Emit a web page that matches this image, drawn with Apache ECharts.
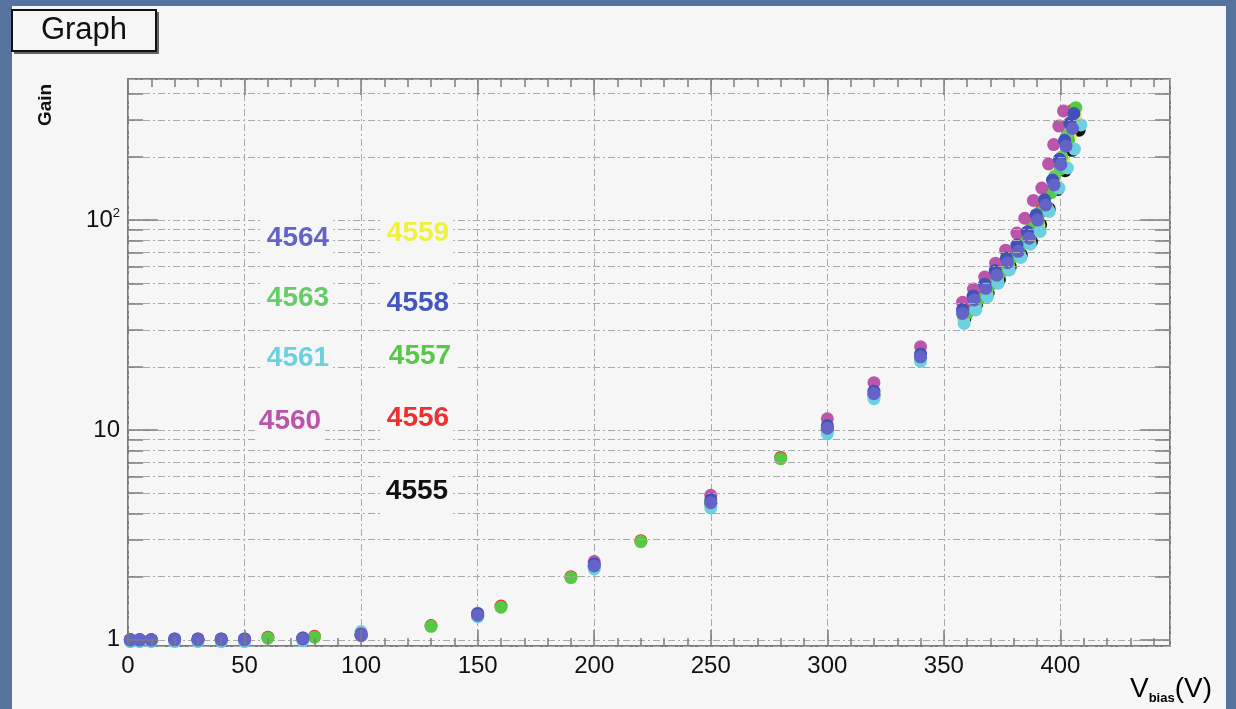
<!DOCTYPE html>
<html><head><meta charset="utf-8">
<script src="https://cdn.jsdelivr.net/npm/echarts@6/dist/echarts.min.js"></script>
<style>html,body{margin:0;padding:0;background:#55739c;}#c{width:1236px;height:709px;}</style>
</head><body><div id="c"></div>
<script>
// ---- data (V_bias in volts, gain) ----
const lowV = [1, 5, 10, 20, 30, 40, 50, 75, 100, 150, 200, 250, 300, 320, 340];

const v4564 = lowV.concat([358, 363, 368, 372.7, 377.3, 381.9, 386.6, 390.2, 393.7, 397.3, 400.2, 402.4, 405.2]);
const g4564 = [1.0, 1.0, 1.0, 1.0, 1.0, 1.0, 1.0, 1.01, 1.05, 1.31, 2.25, 4.5, 10.2, 14.9, 22.3,
               35.9, 41.6, 47.3, 54.6, 62.7, 71, 82, 100, 118, 147, 184, 225, 273];

const v4558 = lowV.concat([358, 362.5, 367.5, 372, 376.8, 381.3, 385.8, 389.6, 393.2, 396.6, 399.6, 401.8, 404, 405.8]);
const g4558 = [1.0, 1.0, 1.0, 1.01, 1.01, 1.01, 1.01, 1.02, 1.06, 1.33, 2.3, 4.65, 10.5, 15.3, 23,
               37.5, 43.5, 49.5, 57.5, 66, 76, 88, 106, 125, 155, 195, 240, 290, 322];

const v4560 = lowV.concat([358, 362.7, 367.5, 372.2, 376.5, 381.3, 384.7, 388.4, 392, 394.9, 397.1, 399.3, 401.3]);
const g4560 = [1.0, 1.0, 1.0, 1.01, 1.01, 1.01, 1.01, 1.02, 1.07, 1.34, 2.36, 4.88, 11.3, 16.8, 24.9,
               40.6, 46.9, 53.5, 62.3, 71.9, 86.7, 102, 124, 142, 185, 229, 281, 331];

const v4561 = lowV.concat([358.7, 363.7, 368.7, 373.3, 378.1, 383, 387, 391.3, 395.2, 399.4, 403, 406, 408.8]);
const g4561 = [0.98, 0.98, 0.98, 0.98, 0.98, 0.98, 0.98, 0.99, 1.095, 1.29, 2.18, 4.25, 9.6, 14.1, 21.2,
               32.2, 37.3, 43.2, 50, 57.9, 66.4, 76.8, 88.3, 110, 142, 177, 218, 284];

const v4559 = lowV.concat([358.5, 363.5, 368.5, 373, 377.8, 382.5, 386.8, 390.8, 394.5, 398, 401.5, 404.2, 406.5]);
const g4559 = [1.0, 1.0, 1.0, 1.0, 1.0, 1.0, 1.0, 1.01, 1.05, 1.3, 2.22, 4.4, 9.9, 14.5, 21.8,
               34, 39.5, 45, 52, 60, 68.5, 79, 94, 113, 150, 190, 250, 310];

const v4563 = lowV.concat([358.3, 363.3, 368.3, 373, 377.6, 382.2, 386.8, 390.5, 394, 397.6, 400.6, 403, 405.6]);
const g4563 = [1.0, 1.0, 1.0, 1.0, 1.0, 1.0, 1.0, 1.01, 1.05, 1.31, 2.24, 4.48, 10.1, 14.7, 22,
               35, 40.8, 46.5, 53.5, 61.5, 70, 81, 98, 116, 162, 200, 260, 320];

const v4557 = [60, 80, 130, 160, 190, 220, 280, 360, 365, 370, 375, 380, 384, 388, 392, 396, 400, 403.5, 406.6];
const g4557 = [1.02, 1.03, 1.16, 1.43, 1.98, 2.94, 7.3, 36, 42, 49, 57, 67, 78, 92, 110, 135, 175, 240, 343];

const v4556 = [60, 80, 130, 160, 190, 220, 280, 360, 365, 370, 375, 380, 384, 388, 392, 396, 400, 403, 405.5];
const g4556 = [1.03, 1.04, 1.17, 1.45, 2.0, 2.97, 7.4, 37, 43, 50, 58.5, 68.5, 80, 94, 113, 139, 180, 250, 335];

const v4555 = lowV.concat([359, 364, 369, 373.8, 378.5, 383.2, 387.6, 391.5, 395.2, 398.8, 402, 405, 408]);
const g4555 = [1.0, 1.0, 1.0, 1.0, 1.0, 1.0, 1.0, 1.01, 1.05, 1.3, 2.24, 4.46, 10.0, 14.6, 21.9,
               34, 39.5, 45, 52, 60, 68.5, 79, 95, 113, 140, 172, 215, 268];

// ---- axes / ticks ----
const xMin = 0, xMax = 447, xMajor = 50;
const yMin = 0.935, yMax = 470;
const xMajorTicks = [0, 50, 100, 150, 200, 250, 300, 350, 400];
const xMinorTicks = [10, 20, 30, 40, 60, 70, 80, 90, 110, 120, 130, 140, 160, 170, 180, 190, 210, 220, 230, 240,
                     260, 270, 280, 290, 310, 320, 330, 340, 360, 370, 380, 390, 410, 420, 430, 440];
const yMajorTicks = [1, 10, 100];
const yMinorTicks = [2, 3, 4, 5, 6, 7, 8, 9, 20, 30, 40, 50, 60, 70, 80, 90, 200, 300, 400];

// series definitions: [name, volts, gains, colour]  (drawing order: first = bottom)
const seriesDefs = [
  ['4555', v4555, g4555, '#111111'],
  ['4559', v4559, g4559, '#eeee40'],
  ['4556', v4556, g4556, '#ee3030'],
  ['4557', v4557, g4557, '#55c844'],
  ['4563', v4563, g4563, '#66cc66'],
  ['4561', v4561, g4561, '#6cd0e0'],
  ['4560', v4560, g4560, '#bb55aa'],
  ['4558', v4558, g4558, '#4052b8'],
  ['4564', v4564, g4564, '#6464c8']
];

// text labels: [text, colour, cx, cy]
const labels = [
  ['4564', '#6464c4', 298, 238],
  ['4559', '#f0f040', 418, 233],
  ['4563', '#66cc66', 298, 298],
  ['4558', '#4455bb', 418, 303],
  ['4561', '#6cd0e0', 298, 358],
  ['4557', '#55c844', 420, 356],
  ['4560', '#bb55aa', 290, 421],
  ['4556', '#ee3030', 418, 418],
  ['4555', '#111111', 417, 491]
];

const FONT = "'Liberation Sans', Arial, Helvetica, sans-serif";
const gridStyle = { color: '#a9a9a9', width: 1, type: [7, 3, 2, 3] };
const tickStyle = { color: '#7c7c7c', width: 1.5, type: 'solid' };

// layout
const G = { left: 128, top: 79, width: 1042, height: 567 };
const pxPerV = G.width / (xMax - xMin);
const pxPerDecade = G.height / Math.log10(yMax / yMin);
const yUp = px => Math.pow(10, px / pxPerDecade);   // multiplicative factor for px on log axis
const xLen = px => px / pxPerV;                      // V units for px

function xTickSegs(vals, len) {
  const f = yUp(len);
  return vals.map(v => [{ coord: [v, yMin] }, { coord: [v, yMin * f] }])
    .concat(vals.map(v => [{ coord: [v, yMax] }, { coord: [v, yMax / f] }]));
}
function yTickSegs(vals, len) {
  const d = xLen(len);
  return vals.map(v => [{ coord: [xMin, v] }, { coord: [xMin + d, v] }])
    .concat(vals.map(v => [{ coord: [xMax - d, v] }, { coord: [xMax, v] }]));
}

const chart = echarts.init(document.getElementById('c'), null, { renderer: 'canvas' });

const series = seriesDefs.map(([name, vs, gs, col]) => ({
  name, type: 'scatter',
  symbol: 'circle', symbolSize: 13,
  itemStyle: { color: col, opacity: 1 },
  data: vs.map((v, i) => [v, gs[i]]),
  silent: true
}));

// minor horizontal grid lines
series.push({
  type: 'scatter', data: [], silent: true,
  markLine: { silent: true, symbol: 'none', label: { show: false }, animation: false,
    lineStyle: gridStyle, data: yMinorTicks.map(v => ({ yAxis: v })) }
});
// tick marks (inside the frame, on all four sides)
series.push({
  type: 'scatter', data: [], silent: true,
  markLine: { silent: true, symbol: 'none', label: { show: false }, animation: false,
    lineStyle: tickStyle,
    data: xTickSegs(xMajorTicks, 16).concat(xTickSegs(xMinorTicks, 8))
      .concat(yTickSegs(yMajorTicks, 30)).concat(yTickSegs(yMinorTicks, 15)) }
});

const option = {
  backgroundColor: '#55739c',
  animation: false,
  textStyle: { fontFamily: FONT },
  grid: { left: G.left, top: G.top, width: G.width, height: G.height, show: true,
          borderColor: '#7c7c7c', borderWidth: 2, backgroundColor: 'transparent' },
  xAxis: {
    type: 'value', min: xMin, max: xMax, interval: xMajor, position: 'bottom',
    axisLine: { show: false }, axisTick: { show: false },
    splitLine: { show: true, lineStyle: gridStyle },
    axisLabel: { show: true, margin: 8, fontSize: 24, color: '#111', fontFamily: FONT,
      showMaxLabel: false, formatter: v => (v % xMajor === 0 ? String(v) : '') }
  },
  yAxis: {
    type: 'log', logBase: 10, min: yMin, max: yMax, position: 'left',
    axisLine: { show: false }, axisTick: { show: false },
    splitLine: { show: true, lineStyle: gridStyle },
    axisLabel: {
      show: true, margin: 8, color: '#111', fontFamily: FONT, fontSize: 24,
      showMinLabel: true, showMaxLabel: false,
      formatter: v => {
        if (Math.abs(v - 1) < 1e-6) return '1';
        if (Math.abs(v - 10) < 1e-5) return '10';
        if (Math.abs(v - 100) < 1e-3) return '{b|10}{s|2}';
        return '';
      },
      rich: {
        b: { fontSize: 24, fontFamily: FONT, color: '#111', lineHeight: 26 },
        s: { fontSize: 13, fontFamily: FONT, color: '#111', verticalAlign: 'top', lineHeight: 26 }
      }
    }
  },
  graphic: [
    { type: 'rect', z: -100, silent: true, shape: { x: 12, y: 6, width: 1214, height: 703 }, style: { fill: '#f6f6f6' } },
    { type: 'rect', z: 90, silent: true, shape: { x: 14, y: 12, width: 145, height: 42 }, style: { fill: '#666' } },
    { type: 'rect', z: 91, silent: true, shape: { x: 12, y: 10, width: 144, height: 41 }, style: { fill: '#f6f6f6', stroke: '#111', lineWidth: 2 } },
    { type: 'text', z: 92, silent: true, x: 84, y: 30,
      style: { text: 'Graph', fill: '#111', fontSize: 31, fontFamily: FONT, align: 'center', verticalAlign: 'middle' } },
    { type: 'text', z: 92, silent: true, x: 46, y: 105, rotation: Math.PI / 2,
      style: { text: 'Gain', fill: '#111', fontSize: 19, fontWeight: 'bold', fontFamily: FONT, align: 'center', verticalAlign: 'middle' } },
    { type: 'text', z: 92, silent: true, x: 1212, y: 689,
      style: { text: '{a|V}{s|bias}{a|(V)}', align: 'right', verticalAlign: 'middle',
        rich: {
          a: { fontSize: 28, fontFamily: FONT, color: '#111', lineHeight: 32 },
          s: { fontSize: 13, fontFamily: FONT, fontWeight: 'bold', color: '#111', verticalAlign: 'bottom', lineHeight: 32 }
        } } }
  ].concat(labels.map(([t, col, cx, cy]) => ({
    type: 'text', z: 80, silent: true, x: cx, y: cy,
    style: { text: t, fill: col, fontSize: 28, fontWeight: 'bold', fontFamily: FONT,
             align: 'center', verticalAlign: 'middle', backgroundColor: '#f6f6f6', padding: [10, 4] }
  }))),
  series
};
chart.setOption(option);
</script>
</body></html>
